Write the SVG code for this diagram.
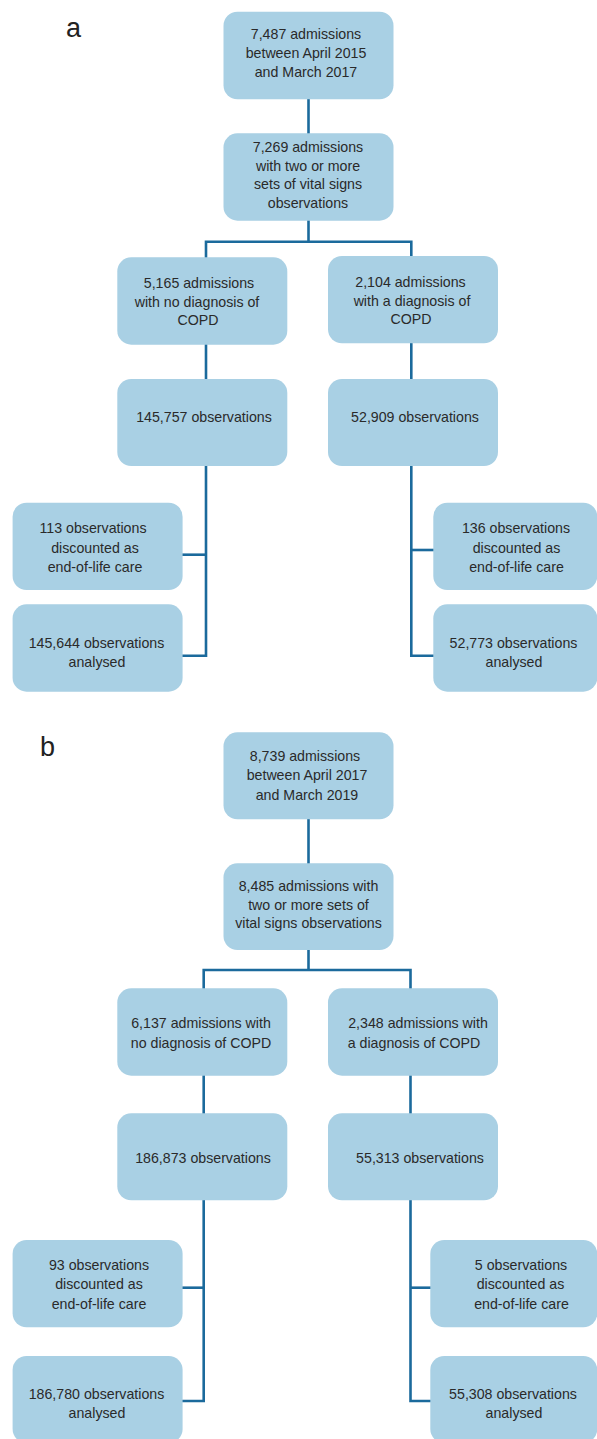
<svg xmlns="http://www.w3.org/2000/svg" width="597" height="1439" viewBox="0 0 597 1439">
<style>
.box{fill:#a9d0e4;}
.t{font-family:"Liberation Sans",Arial,sans-serif;font-size:14.2px;fill:#2a2a2a;text-anchor:middle;}
.lbl{font-family:"Liberation Sans",Arial,sans-serif;font-size:27px;fill:#222;}
.c{fill:none;stroke:#1b6a9c;stroke-width:2.6;}
</style>
<rect width="597" height="1439" fill="#fff"/>
<text class="lbl" x="66" y="37">a</text>
<text class="lbl" x="40" y="756">b</text>
<g id="connectors">
<path class="c" d="M308.5,99 V134"/>
<path class="c" d="M308.5,220 V241.7"/>
<path class="c" d="M206,258 V241.7 H411.3 V257"/>
<path class="c" d="M206,344 V380"/>
<path class="c" d="M411.3,343 V380"/>
<path class="c" d="M206,465 V655.7 H182"/>
<path class="c" d="M182,554.7 H206"/>
<path class="c" d="M411.3,465 V655.7 H434"/>
<path class="c" d="M411.3,550 H434"/>
<path class="c" d="M308.5,819 V864"/>
<path class="c" d="M308.5,949 V970"/>
<path class="c" d="M203.7,989 V970 H410.5 V989"/>
<path class="c" d="M203.7,1075 V1114"/>
<path class="c" d="M410.5,1075 V1114"/>
<path class="c" d="M203.7,1200 V1401 H182"/>
<path class="c" d="M182,1287.7 H203.7"/>
<path class="c" d="M410.5,1200 V1401 H431"/>
<path class="c" d="M410.5,1287.7 H431"/>
</g>
<g id="a1"><rect class="box" x="223.5" y="11.7" width="170" height="87.6" rx="14"/>
<text class="t" x="306"><tspan x="306" y="39.3">7,487 admissions</tspan><tspan x="306" y="58.3">between April 2015</tspan><tspan x="306" y="76.7">and March 2017</tspan></text></g>
<g id="a2"><rect class="box" x="223.5" y="133.3" width="170" height="87.4" rx="14"/>
<text class="t"><tspan x="308" y="151.7">7,269 admissions</tspan><tspan x="308" y="170.7">with two or more</tspan><tspan x="308" y="189.3">sets of vital signs</tspan><tspan x="308" y="207.7">observations</tspan></text></g>
<g id="a3"><rect class="box" x="117.3" y="257.3" width="170" height="87.4" rx="14"/>
<text class="t"><tspan x="199" y="287.7">5,165 admissions</tspan><tspan x="197" y="306.7">with no diagnosis of</tspan><tspan x="198" y="325">COPD</tspan></text></g>
<g id="a4"><rect class="box" x="328" y="256" width="170" height="87.3" rx="14"/>
<text class="t"><tspan x="410.5" y="286.7">2,104 admissions</tspan><tspan x="412" y="305.7">with a diagnosis of</tspan><tspan x="411" y="324.3">COPD</tspan></text></g>
<g id="a5"><rect class="box" x="117.3" y="379" width="170" height="87" rx="14"/>
<text class="t" x="204" y="422.3">145,757 observations</text></g>
<g id="a6"><rect class="box" x="328" y="379" width="170" height="87" rx="14"/>
<text class="t" x="415" y="422.3">52,909 observations</text></g>
<g id="a7"><rect class="box" x="12.6" y="502.7" width="170" height="87.3" rx="14"/>
<text class="t"><tspan x="93" y="533.3">113 observations</tspan><tspan x="95" y="552.7">discounted as</tspan><tspan x="95" y="572.3">end-of-life care</tspan></text></g>
<g id="a8"><rect class="box" x="12.6" y="604.3" width="170" height="87.4" rx="14"/>
<text class="t"><tspan x="96.5" y="647.7">145,644 observations</tspan><tspan x="97" y="666.7">analysed</tspan></text></g>
<g id="a9"><rect class="box" x="433.3" y="502.7" width="164" height="87.3" rx="14"/>
<text class="t"><tspan x="516" y="533.3">136 observations</tspan><tspan x="516.5" y="552.7">discounted as</tspan><tspan x="516.5" y="572.3">end-of-life care</tspan></text></g>
<g id="a10"><rect class="box" x="433.3" y="604.3" width="164" height="87.4" rx="14"/>
<text class="t"><tspan x="513.5" y="647.7">52,773 observations</tspan><tspan x="514" y="666.7">analysed</tspan></text></g>
<g id="b1"><rect class="box" x="223.5" y="732.3" width="170" height="87" rx="14"/>
<text class="t"><tspan x="305" y="761">8,739 admissions</tspan><tspan x="307" y="780">between April 2017</tspan><tspan x="307" y="800">and March 2019</tspan></text></g>
<g id="b2"><rect class="box" x="223.5" y="863.3" width="170" height="86.7" rx="14"/>
<text class="t"><tspan x="308.5" y="890.7">8,485 admissions with</tspan><tspan x="308.5" y="910">two or more sets of</tspan><tspan x="308.5" y="928.3">vital signs observations</tspan></text></g>
<g id="b3"><rect class="box" x="117.3" y="988.3" width="170" height="87.4" rx="14"/>
<text class="t"><tspan x="201" y="1027.7">6,137 admissions with</tspan><tspan x="201" y="1047.7">no diagnosis of COPD</tspan></text></g>
<g id="b4"><rect class="box" x="328" y="988.3" width="170" height="87.4" rx="14"/>
<text class="t"><tspan x="418" y="1027.7">2,348 admissions with</tspan><tspan x="414" y="1047.7">a diagnosis of COPD</tspan></text></g>
<g id="b5"><rect class="box" x="117.3" y="1113.3" width="170" height="87" rx="14"/>
<text class="t" x="203" y="1163.3">186,873 observations</text></g>
<g id="b6"><rect class="box" x="328" y="1113.3" width="170" height="87" rx="14"/>
<text class="t" x="420" y="1163.3">55,313 observations</text></g>
<g id="b7"><rect class="box" x="12.6" y="1240" width="170" height="87.3" rx="14"/>
<text class="t"><tspan x="99" y="1270">93 observations</tspan><tspan x="99" y="1289">discounted as</tspan><tspan x="99" y="1309">end-of-life care</tspan></text></g>
<g id="b8"><rect class="box" x="12.6" y="1356" width="170" height="87" rx="14"/>
<text class="t"><tspan x="96.5" y="1399.3">186,780 observations</tspan><tspan x="97" y="1418.3">analysed</tspan></text></g>
<g id="b9"><rect class="box" x="430.3" y="1240" width="167" height="87.3" rx="14"/>
<text class="t"><tspan x="521" y="1270">5 observations</tspan><tspan x="520.5" y="1289">discounted as</tspan><tspan x="521.5" y="1309">end-of-life care</tspan></text></g>
<g id="b10"><rect class="box" x="430.3" y="1356" width="167" height="87" rx="14"/>
<text class="t"><tspan x="513" y="1399.3">55,308 observations</tspan><tspan x="514" y="1418.3">analysed</tspan></text></g>
</svg>
